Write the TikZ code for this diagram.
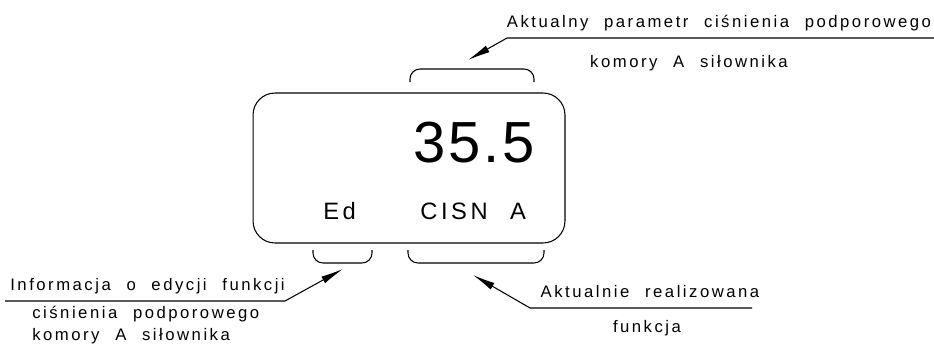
\documentclass[tikz,border=0pt]{standalone}
\usepackage{fontspec}
\setmainfont{Liberation Sans}
\newfontfamily\notefont[LetterSpace=15, WordSpace=2.2]{Liberation Sans}
\newfontfamily\lcdfont[LetterSpace=5]{Liberation Sans}
\usetikzlibrary{arrows.meta}

\begin{document}
\begin{tikzpicture}[
    x=0.02cm, y=-0.02cm,
    display/.style={draw, rectangle, rounded corners=4.4mm, minimum width=6.24cm, minimum height=3cm, line width=0.6pt},
    note/.style={inner sep=0pt, font=\notefont\fontsize{9.5}{12}\selectfont},
    lcd/.style={inner sep=0pt, font=\notefont\fontsize{13.5}{17}\selectfont},
    brace/.style={line width=0.6pt, rounded corners=2mm},
    pointer/.style={-{Latex[length=4.5mm, width=1.5mm]}, line width=0.6pt}
]
\useasboundingbox (0,0) rectangle (934,349);

% display panel
\node[display] (disp) at (409,168) {};
\node[lcd, font=\lcdfont\fontsize{33}{36}\selectfont, anchor=base east] (value) at (535,162) {35.5};
\node[lcd, anchor=base west] (edit) at (323,219) {Ed};
\node[lcd, anchor=base west] (func) at (420,219) {CISN A};

% brackets
\draw[brace] (410,82) -- (410,69) -- (534,69) -- (534,82);
\draw[brace] (313,250) -- (313,263) -- (372,263) -- (372,250);
\draw[brace] (408,250) -- (408,263) -- (544,263) -- (544,250);

% top note
\node[note, anchor=base] (param1) at (719,27) {Aktualny parametr ciśnienia podporowego};
\node[note, anchor=base] (param2) at (689,67) {komory A siłownika};
\coordinate (p-end) at (934,38);
\coordinate (p-knee) at (507,38);
\coordinate (p-tip) at (468,60);
\draw[pointer] (p-end) -- (p-knee) -- (p-tip);

% bottom left note
\node[note, anchor=base west] (info1) at (10,290) {Informacja o edycji funkcji};
\node[note, anchor=base west] (info2) at (32,318) {ciśnienia podporowego};
\node[note, anchor=base west] (info3) at (32,340) {komory A siłownika};
\coordinate (i-end) at (5,301);
\coordinate (i-knee) at (285,301);
\coordinate (i-tip) at (343,269);
\draw[pointer] (i-end) -- (i-knee) -- (i-tip);

% bottom right note
\node[note, anchor=base] (act1) at (650,297) {Aktualnie realizowana};
\node[note, anchor=base] (act2) at (647,332) {funkcja};
\coordinate (a-end) at (752,308);
\coordinate (a-knee) at (530,308);
\coordinate (a-tip) at (473,275);
\draw[pointer] (a-end) -- (a-knee) -- (a-tip);

\end{tikzpicture}
\end{document}
